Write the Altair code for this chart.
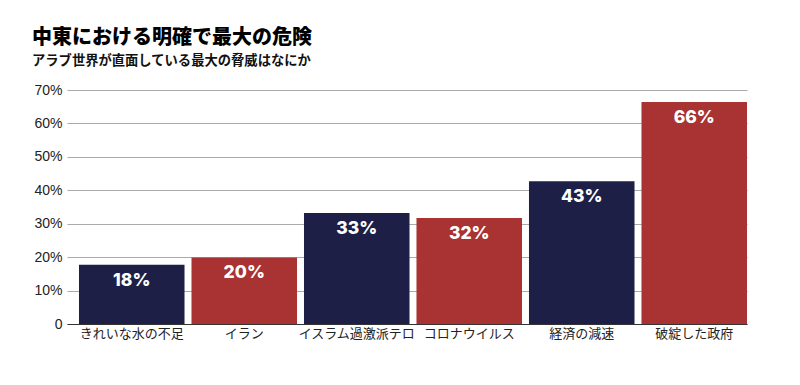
import altair as alt
import pandas as pd

categories = ["きれいな水の不足", "イラン", "イスラム過激派テロ", "コロナウイルス", "経済の減速", "破綻した政府"]
values = [17.7, 19.9, 33.2, 31.7, 42.7, 66.4]
labels = ["18%", "20%", "33%", "32%", "43%", "66%"]
groups = ["a", "b", "a", "b", "a", "b"]
y_ticks = [0, 10, 20, 30, 40, 50, 60, 70]

NAVY = "#1d1f47"
RED = "#a83332"

df = pd.DataFrame({"cat": categories, "val": values, "lab": labels, "grp": groups})

x = alt.X(
    "cat:N",
    sort=categories,
    title=None,
    scale=alt.Scale(paddingInner=0.062, paddingOuter=0.0533, align=1),
    axis=alt.Axis(
        labelAngle=0,
        ticks=False,
        domain=True,
        domainColor="#333333",
        domainWidth=1,
        labelFont="Noto Sans CJK JP",
        labelFontSize=13,
        labelColor="#222222",
        labelPadding=3,
    ),
)
y = alt.Y(
    "val:Q",
    title=None,
    scale=alt.Scale(domain=[0, 70], nice=False),
    axis=alt.Axis(
        values=y_ticks,
        labelExpr="datum.value == 0 ? '0' : datum.value + '%'",
        labelOverlap=False,
        domain=False,
        ticks=False,
        grid=True,
        gridColor="#aaaaaa",
        gridWidth=1,
        labelFont="Liberation Sans",
        labelFontSize=14,
        labelColor="#222222",
        labelPadding=5,
    ),
)

base = alt.Chart(df).encode(x=x, y=y)

bars = base.mark_bar().encode(
    color=alt.Color("grp:N", scale=alt.Scale(domain=["a", "b"], range=[NAVY, RED]), legend=None),
)

text = base.mark_text(
    font="Inter", fontWeight=800, fontSize=17.5, color="white", baseline="middle", dy=16
).encode(text="lab:N")

chart = (
    alt.layer(bars, text)
    .properties(
        width=680,
        height=234,
        autosize=alt.AutoSizeParams(type="none"),
        padding={"left": 59, "top": 82, "right": 45, "bottom": 45},
        title=alt.TitleParams(
            text="中東における明確で最大の危険",
            subtitle="アラブ世界が直面している最大の脅威はなにか",
            anchor="start",
            frame="group",
            dx=-35,
            offset=16,
            font="Noto Sans CJK JP",
            fontSize=20,
            fontWeight=900,
            color="#000000",
            subtitleFont="Noto Sans CJK JP",
            subtitleFontSize=13.3,
            subtitleFontWeight="bold",
            subtitleColor="#111111",
            subtitlePadding=6,
        ),
    )
    .configure_view(stroke=None)
)

chart.save("out.html", embed_options={"renderer": "svg", "actions": False})
